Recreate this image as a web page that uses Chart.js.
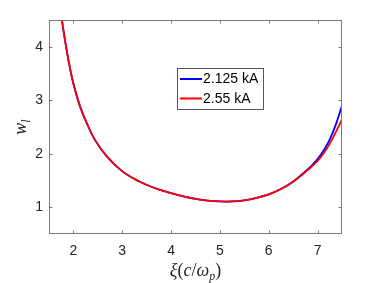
<!DOCTYPE html>
<html>
<head>
<meta charset="utf-8">
<script src="https://cdn.jsdelivr.net/npm/chart.js@4.4.0/dist/chart.umd.min.js"></script>
<style>
  html, body { margin: 0; padding: 0; background: #fff; }
  #wrap { width: 377px; height: 283px; position: relative; }
</style>
</head>
<body>
<div id="wrap"><canvas id="chartW"></canvas></div>
<script>
// values
const xi = [1.75, 1.8, 1.9, 2.0, 2.134, 2.27, 2.44, 2.68, 2.99, 3.33, 3.66, 4.0, 4.25, 4.5, 4.75,
  5.0, 5.25, 5.5, 5.75, 6.0, 6.25, 6.5, 6.625, 6.75, 6.875, 7.0, 7.125, 7.25, 7.375, 7.5];
const wBlue = [4.6, 4.28, 3.74, 3.31, 2.89, 2.58, 2.26, 1.955, 1.68, 1.49, 1.36, 1.265, 1.205, 1.158, 1.125,
  1.108, 1.108, 1.13, 1.175, 1.24, 1.34, 1.48, 1.57, 1.67, 1.775, 1.9, 2.06, 2.27, 2.55, 2.9];
const wRed = [4.6, 4.28, 3.74, 3.31, 2.89, 2.58, 2.26, 1.955, 1.68, 1.49, 1.36, 1.265, 1.205, 1.158, 1.125,
  1.108, 1.108, 1.13, 1.175, 1.24, 1.34, 1.48, 1.565, 1.66, 1.757, 1.865, 2.01, 2.19, 2.41, 2.64];
const seriesNames = ["2.125 kA", "2.55 kA"];
const xTicks = [2, 3, 4, 5, 6, 7];
const yTicks = [1, 2, 3, 4];

const AXIS_GREY = "#7a7a7a";
const TEXT_DARK = "#262626";

function toPoints(ys) {
  return xi.map((x, i) => ({ x: x, y: ys[i] }));
}

function drawRich(ctx, parts, x, y) {
  // parts: [text, font, subscript?]
  let total = 0;
  parts.forEach((p) => {
    ctx.font = p[1];
    total += ctx.measureText(p[0]).width;
  });
  let cx = x - total / 2;
  parts.forEach((p) => {
    ctx.font = p[1];
    ctx.fillText(p[0], cx, p[2] ? y + 4 : y);
    cx += ctx.measureText(p[0]).width;
  });
}

const framePlugin = {
  id: "frame",
  afterDraw(chart) {
    const ctx = chart.ctx;
    const a = chart.chartArea;
    const sx = chart.scales.x;
    const sy = chart.scales.y;
    const L = Math.round(a.left) + 0.5;
    const R = Math.round(a.right) - 0.5;
    const T = Math.round(a.top) + 0.5;
    const B = Math.round(a.bottom) - 0.5;

    ctx.save();
    ctx.strokeStyle = AXIS_GREY;
    ctx.lineWidth = 1;
    ctx.strokeRect(L, T, R - L, B - T);

    ctx.beginPath();
    xTicks.forEach((v) => {
      const px = Math.round(sx.getPixelForValue(v)) + 0.5;
      ctx.moveTo(px, B); ctx.lineTo(px, B - 3);
      ctx.moveTo(px, T); ctx.lineTo(px, T + 3);
    });
    yTicks.forEach((v) => {
      const py = Math.round(sy.getPixelForValue(v)) + 0.5;
      ctx.moveTo(L, py); ctx.lineTo(L + 3, py);
      ctx.moveTo(R, py); ctx.lineTo(R - 3, py);
    });
    ctx.stroke();

    // axis titles
    ctx.fillStyle = TEXT_DARK;
    ctx.textBaseline = "alphabetic";
    ctx.textAlign = "left";
    const it = "italic 18px 'Liberation Serif'";
    const up = "18px 'Liberation Serif'";
    const sub = "italic 12px 'Liberation Serif'";
    drawRich(ctx, [["ξ", it], ["(", up], ["c", it], ["/", up], ["ω", it], ["p", sub, true], [")", up]],
      (a.left + a.right) / 2, 276);

    ctx.save();
    ctx.translate(26, (a.top + a.bottom) / 2);
    ctx.rotate(-Math.PI / 2);
    drawRich(ctx, [["w", it], ["l", sub, true]], 0, 0);
    ctx.restore();

    // legend
    const lx = a.left + 128;
    const ly = a.top + 48;
    ctx.fillStyle = "#fff";
    ctx.fillRect(lx, ly, 86, 41);
    ctx.strokeStyle = "#555";
    ctx.strokeRect(lx + 0.5, ly + 0.5, 86, 41);
    ctx.font = "14px 'Liberation Sans'";
    ctx.textBaseline = "middle";
    chart.data.datasets.forEach((ds, i) => {
      const yy = ly + 11 + i * 19.5;
      ctx.strokeStyle = ds.borderColor;
      ctx.lineWidth = 2;
      ctx.beginPath();
      ctx.moveTo(lx + 3, yy);
      ctx.lineTo(lx + 25, yy);
      ctx.stroke();
      ctx.fillStyle = "#000";
      ctx.fillText(ds.label, lx + 26, yy + 0.5);
    });
    ctx.restore();
  },
};

function bootChart() {
  const el = document.getElementById("chartW");
  if (!el || !window.Chart) return;

  const tickFont = { family: "'Liberation Sans', Arial, sans-serif", size: 14 };

  new Chart(el, {
    type: "line",
    data: {
      datasets: [
        {
          label: seriesNames[0],
          data: toPoints(wBlue),
          borderColor: "#0000ff",
          borderWidth: 1.8,
          pointRadius: 0,
          tension: 0.4,
          order: 1,
        },
        {
          label: seriesNames[1],
          data: toPoints(wRed),
          borderColor: "#ff0000",
          borderWidth: 1.8,
          pointRadius: 0,
          tension: 0.4,
          order: 0,
        },
      ],
    },
    options: {
      responsive: true,
      maintainAspectRatio: false,
      animation: false,
      layout: { padding: { left: 0, top: 20, right: 35, bottom: 0 } },
      plugins: {
        legend: { display: false },
        tooltip: { enabled: false },
      },
      scales: {
        x: {
          type: "linear",
          min: 1.5,
          max: 7.5,
          afterBuildTicks: (s) => { s.ticks = xTicks.map((v) => ({ value: v })); },
          afterFit: (s) => { s.height = 49; },
          grid: { display: false, drawTicks: false },
          border: { display: false },
          ticks: { color: TEXT_DARK, font: tickFont, padding: 9, maxRotation: 0 },
        },
        y: {
          type: "linear",
          min: 0.5,
          max: 4.5,
          afterBuildTicks: (s) => { s.ticks = yTicks.map((v) => ({ value: v })); },
          afterFit: (s) => { s.width = 49; },
          grid: { display: false, drawTicks: false },
          border: { display: false },
          ticks: { color: TEXT_DARK, font: tickFont, padding: 6 },
        },
      },
    },
    plugins: [framePlugin],
  });
}

document.addEventListener("DOMContentLoaded", bootChart);
</script>
</body>
</html>
